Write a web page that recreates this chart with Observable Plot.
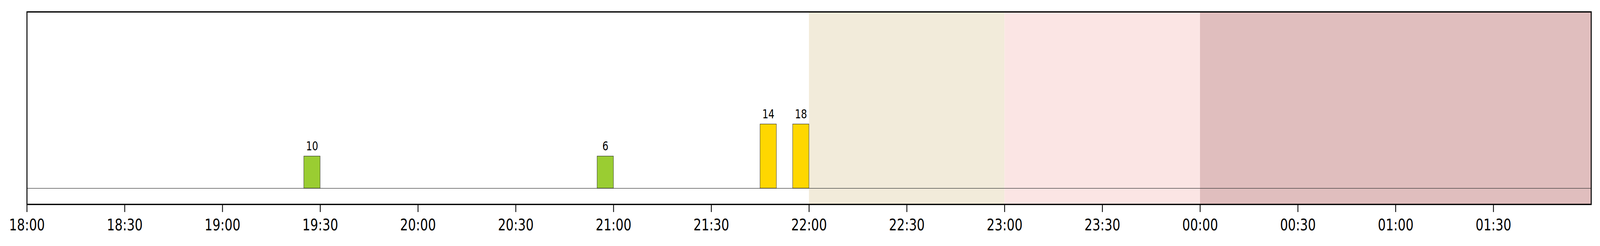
<!DOCTYPE html>
<html>
<head>
<meta charset="utf-8">
<script src="https://cdn.jsdelivr.net/npm/d3@7"></script>
<script src="https://cdn.jsdelivr.net/npm/@observablehq/plot@0.6"></script>
<style>
  html, body { margin: 0; padding: 0; background: #fff; overflow: hidden; }
  #chart svg { display: block; width: 100vw !important; height: 100vh !important; max-width: none !important; }
</style>
</head>
<body>
<div id="chart"></div>
<script>
// ---- data ----
const domainStart = "2024-01-01T18:00:00Z";
const domainEnd   = "2024-01-02T02:00:00Z";

const eventStart = ["2024-01-01T19:25:00Z", "2024-01-01T20:55:00Z", "2024-01-01T21:45:00Z", "2024-01-01T21:55:00Z"];
const eventEnd   = ["2024-01-01T19:30:00Z", "2024-01-01T21:00:00Z", "2024-01-01T21:50:00Z", "2024-01-01T22:00:00Z"];
const eventLevel = [1, 1, 2, 2];
const eventLabel = [10, 6, 14, 18];
const eventClass = ["low", "low", "high", "high"];

const classNames  = ["low", "high"];
const classColors = ["#9acd32", "#ffd700"];

const spanStart = ["2024-01-01T22:00:00Z", "2024-01-01T23:00:00Z", "2024-01-02T00:00:00Z"];
const spanEnd   = ["2024-01-01T23:00:00Z", "2024-01-02T00:00:00Z", "2024-01-02T02:00:00Z"];
const spanColor = ["#f2ebda", "#fbe5e4", "#e0bebe"];

// ---- tables built from arrays ----
const events = eventStart.map((s, i) => ({
  start: new Date(s), end: new Date(eventEnd[i]),
  level: eventLevel[i], label: eventLabel[i], cls: eventClass[i]
}));
const spans = spanStart.map((s, i) => ({start: new Date(s), end: new Date(spanEnd[i]), color: spanColor[i]}));
const x0 = new Date(domainStart), x1 = new Date(domainEnd);
const ticks = d3.utcMinute.every(30).range(x0, x1);

const chart = Plot.plot({
  width: 5370,
  height: 630,
  marginLeft: 90,
  marginRight: 30,
  marginTop: 30,
  marginBottom: 107,
  style: {fontFamily: "DejaVu Sans", background: "#fff"},
  x: {type: "utc", domain: [x0, x1]},
  y: {domain: [-0.5, 5.5], axis: null},
  color: {type: "ordinal", domain: classNames, range: classColors},
  marks: [
    Plot.rect(spans, {x1: "start", x2: "end", fill: "color"}),
    Plot.ruleY([0], {stroke: "#333", strokeWidth: 1.2}),
    Plot.rect(events, {x1: "start", x2: "end", y1: 0, y2: "level", fill: "cls", stroke: "#333", strokeWidth: 1.2}),
    Plot.text(events, {
      x: d => new Date((+d.start + +d.end) / 2),
      y: "level", text: d => String(d.label),
      lineAnchor: "bottom", dy: -15.5, fontSize: 32, fill: "#000"
    }),
    Plot.frame({stroke: "#000", strokeWidth: 3.33}),
    Plot.axisX({
      ticks: ticks,
      tickFormat: d3.utcFormat("%H:%M"),
      tickSize: 20,
      tickPadding: 17,
      fontSize: 41.67,
      strokeWidth: 2.8,
      stroke: "#000",
      fill: "#000",
      label: null
    })
  ]
});
chart.setAttribute("preserveAspectRatio", "none");
document.getElementById("chart").appendChild(chart);
</script>
</body>
</html>
